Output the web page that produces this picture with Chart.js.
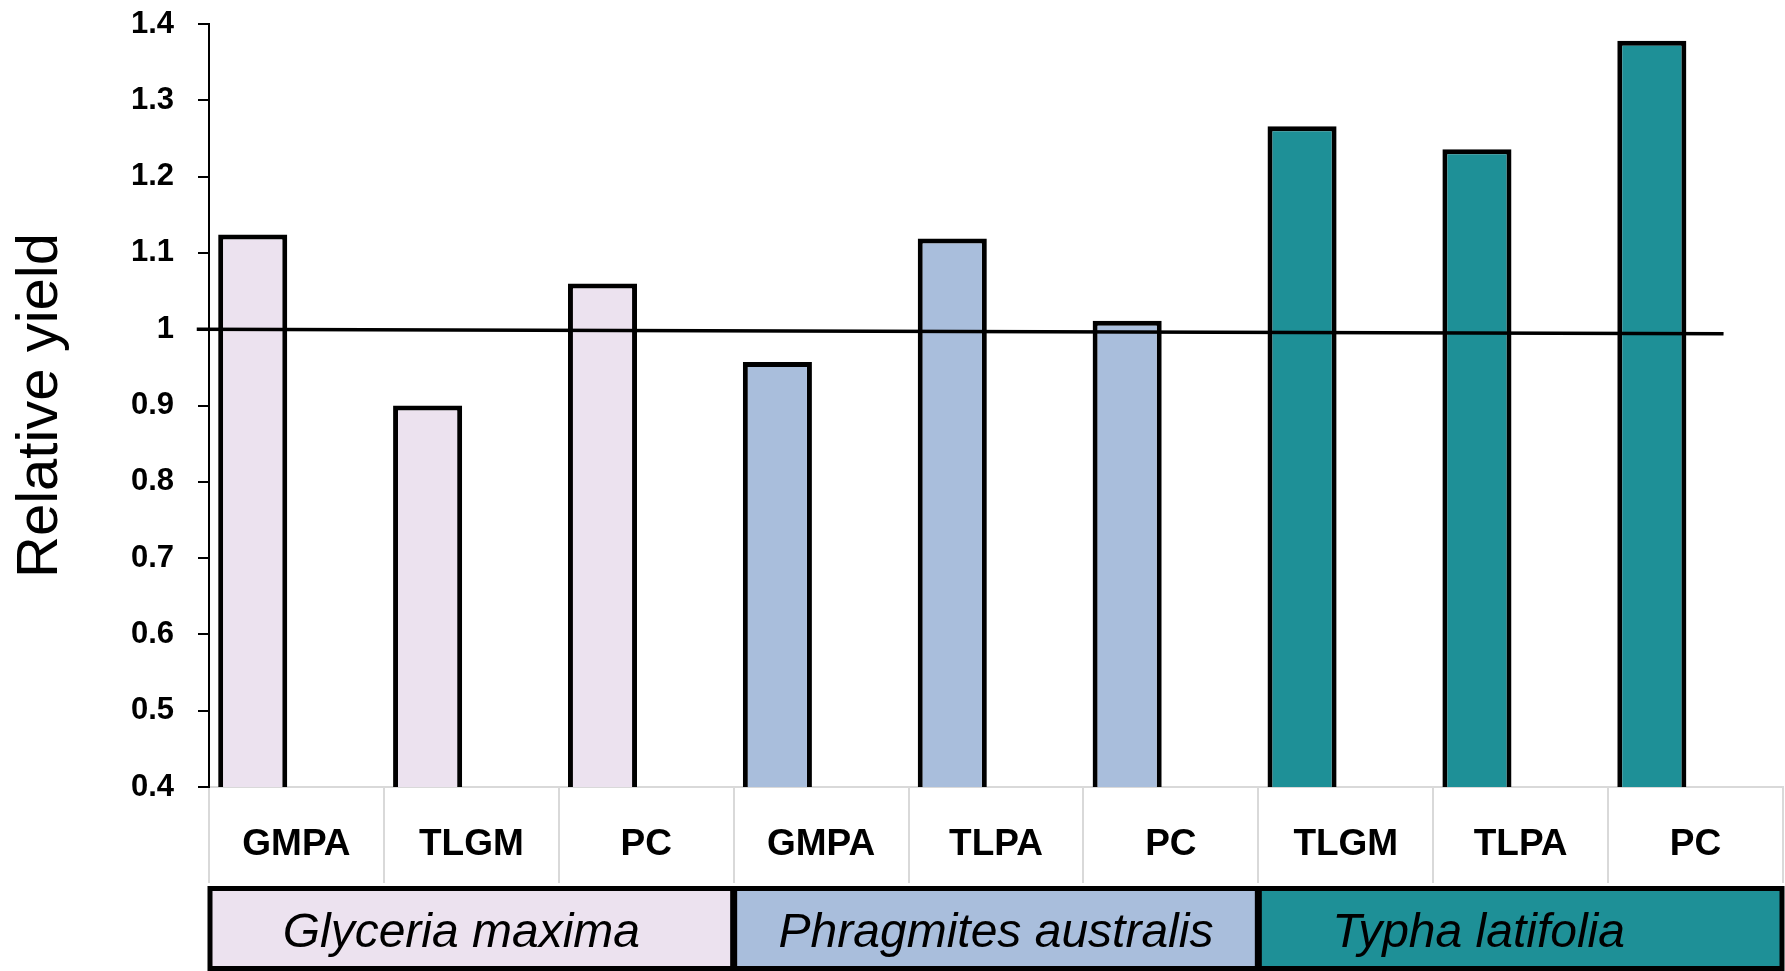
<!DOCTYPE html>
<html>
<head>
<meta charset="utf-8">
<script src="https://cdn.jsdelivr.net/npm/chart.js@4/dist/chart.umd.min.js"></script>
<style>
	body { margin: 0; background: #ffffff; }
	#wrap { width: 1785px; height: 971px; position: relative; }
</style>
</head>
<body>
<div id="wrap"><canvas id="chartYield"></canvas></div>
<script>
let treatmentLabels = ["GMPA", "TLGM", "PC", "GMPA", "TLPA", "PC", "TLGM", "TLPA", "PC"];
let relativeYield = [1.124, 0.900, 1.060, 0.957, 1.119, 1.011, 1.266, 1.236, 1.378];
let speciesNames = ["Glyceria maxima", "Phragmites australis", "Typha latifolia"];
let speciesOfBar = [0, 0, 0, 1, 1, 1, 2, 2, 2];
let speciesColors = ["#ECE2EF", "#A9BEDC", "#1E9097"];
// hand drawn reference line at 1 (x in category units)
let referenceX = [-0.07, 8.66];
let referenceY = [1.0, 0.994];
let yMin = 0.4;
let yMax = 1.4;
let yStep = 0.1;

let fontName = "'Liberation Sans', Arial, sans-serif";

// the original bars sit in the left half of each category,
// so they go on a hidden axis with two slots per category
function halfSlotLabels() {
	let labels = new Array();
	for (let i = 0; i < treatmentLabels.length; i++) {
		labels.push(treatmentLabels[i]);
		labels.push("");
	}
	return labels;
}

function halfSlotValues() {
	let values = new Array();
	for (let i = 0; i < relativeYield.length; i++) {
		values.push(relativeYield[i]);
		values.push(null);
	}
	return values;
}

function halfSlotColors() {
	let colors = new Array();
	for (let i = 0; i < speciesOfBar.length; i++) {
		colors.push(speciesColors[speciesOfBar[i]]);
		colors.push("rgba(0,0,0,0)");
	}
	return colors;
}

function referencePoints() {
	let points = new Array();
	for (let i = 0; i < referenceX.length; i++) {
		points.push({ x: referenceX[i], y: referenceY[i] });
	}
	return points;
}

// boxes with the species names under the treatment labels
let speciesBoxes = {
	id: "speciesBoxes",
	afterDraw(chart, args, opts) {
		let ctx = chart.ctx;
		let xScale = chart.scales.x;
		let catWidth = xScale.width / treatmentLabels.length;
		let top = xScale.bottom + 5.5;
		let bottom = chart.height - 2.5;
		ctx.save();
		for (let g = 0; g < speciesNames.length; g++) {
			let first = speciesOfBar.indexOf(g);
			let count = speciesOfBar.filter(s => s == g).length;
			let x0 = xScale.left + first * catWidth + 1;
			let x1 = xScale.left + (first + count) * catWidth - 1;
			ctx.fillStyle = speciesColors[g];
			ctx.fillRect(x0, top, x1 - x0, bottom - top);
			ctx.lineWidth = 5;
			ctx.strokeStyle = "#000000";
			ctx.strokeRect(x0, top, x1 - x0, bottom - top);
			ctx.fillStyle = "#000000";
			ctx.font = "italic 48px " + fontName;
			ctx.textAlign = "center";
			ctx.textBaseline = "alphabetic";
			ctx.fillText(speciesNames[g], (x0 + x1) / 2 + opts.shift[g], top + 58);
		}
		ctx.restore();
	}
};

let configYield = {
	type: "bar",
	data: {
		labels: treatmentLabels,
		datasets: [{
			label: "Relative yield",
			data: halfSlotValues(),
			xAxisID: "xBars",
			backgroundColor: halfSlotColors(),
			borderColor: "#000000",
			borderWidth: 5,
			grouped: false,
			categoryPercentage: 1,
			barPercentage: 0.79,
			order: 1
		}, {
			type: "line",
			label: "1",
			data: referencePoints(),
			xAxisID: "xLine",
			borderColor: "#000000",
			borderWidth: 3.5,
			pointRadius: 0,
			clip: false,
			order: 0
		}]
	},
	options: {
		responsive: true,
		maintainAspectRatio: false,
		animation: false,
		layout: { padding: { top: 24, right: 2, bottom: 88, left: 0 } },
		plugins: {
			legend: { display: false },
			tooltip: { enabled: false },
			speciesBoxes: { shift: [-10, 0, -42] }
		},
		scales: {
			x: {
				type: "category",
				offset: true,
				grid: {
					display: true,
					drawOnChartArea: false,
					drawTicks: true,
					tickLength: 96,
					color: "#D9D9D9",
					lineWidth: 2
				},
				border: { display: true, color: "#D9D9D9", width: 2 },
				ticks: {
					color: "#000000",
					padding: -60,
					maxRotation: 0,
					autoSkip: false,
					font: { family: fontName, size: 37, weight: "bold" }
				},
				afterFit: function (scale) {
					scale.height = 96;
					scale.paddingLeft = 0;
					scale.paddingRight = 0;
				}
			},
			xBars: {
				type: "category",
				labels: halfSlotLabels(),
				offset: true,
				display: false
			},
			xLine: {
				type: "linear",
				display: false,
				offset: false,
				min: 0,
				max: treatmentLabels.length
			},
			y: {
				min: yMin,
				max: yMax,
				grid: {
					display: true,
					drawOnChartArea: false,
					tickLength: 11,
					color: "#000000",
					lineWidth: 2
				},
				border: { display: true, color: "#000000", width: 2 },
				ticks: {
					stepSize: yStep,
					color: "#000000",
					padding: 24,
					font: { family: fontName, size: 31, weight: "bold" },
					callback: function (value) { return parseFloat(value.toFixed(1)).toString(); }
				},
				title: {
					display: true,
					text: "Relative yield",
					color: "#000000",
					padding: { top: 12, bottom: 0 },
					font: { family: fontName, size: 58, weight: "normal", lineHeight: 1 }
				},
				afterFit: function (scale) {
					scale.width = 209;
					scale.paddingTop = 0;
					scale.paddingBottom = 0;
				}
			}
		}
	},
	plugins: [speciesBoxes]
};

let chartYield = document.getElementById("chartYield").getContext("2d");
let chartYieldCanvas = new Chart(chartYield, configYield);
</script>
</body>
</html>
